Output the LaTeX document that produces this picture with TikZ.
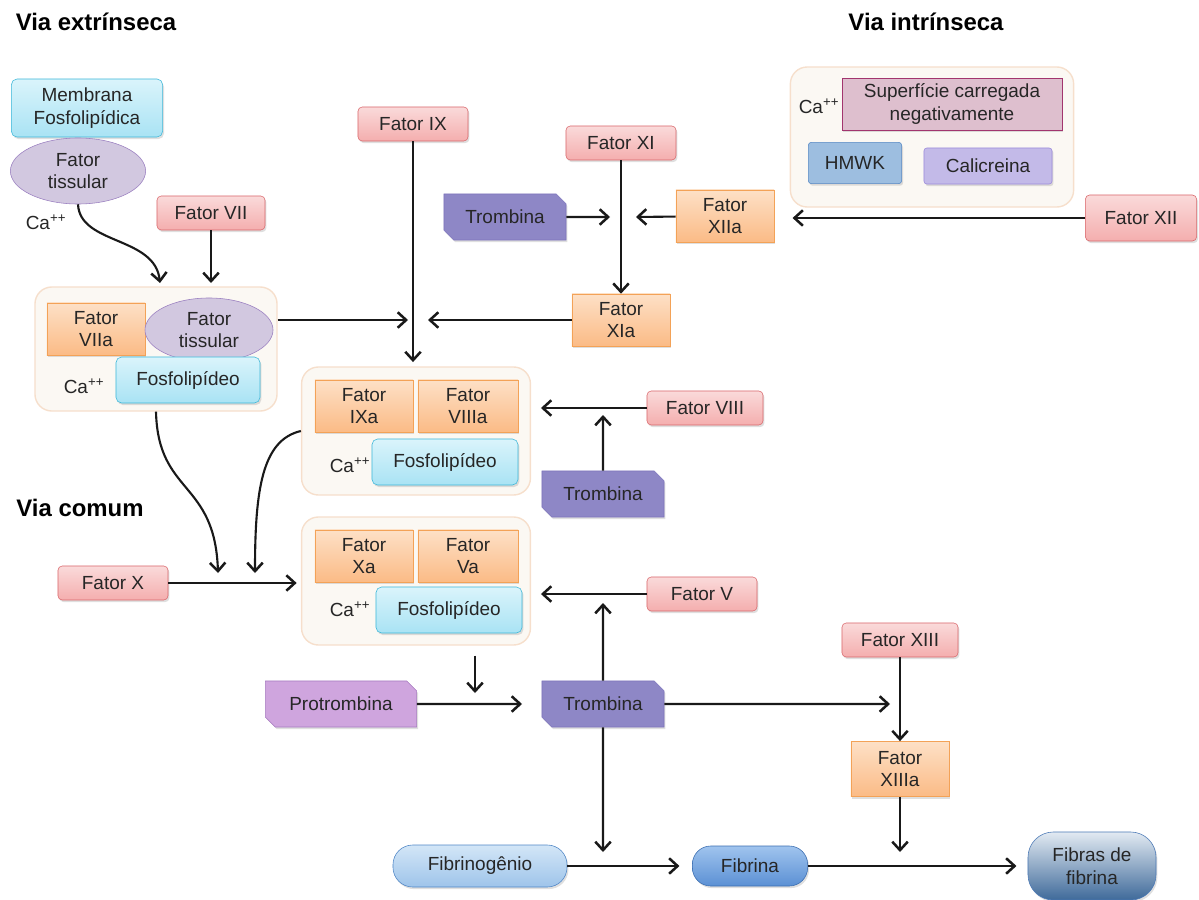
\documentclass[tikz,border=0pt]{standalone}
\usepackage{fontspec}
\setmainfont{Liberation Sans}
\usetikzlibrary{arrows.meta,shapes.geometric,shapes.misc,shadows}

\definecolor{fattop}{HTML}{FADADA}
\definecolor{fatbot}{HTML}{F4AEAE}
\definecolor{fatline}{HTML}{D9686C}
\definecolor{ativtop}{HTML}{FDE0C6}
\definecolor{ativbot}{HTML}{FBBB86}
\definecolor{ativline}{HTML}{F3A257}
\definecolor{fostop}{HTML}{DAF4FB}
\definecolor{fosbot}{HTML}{A9E3F4}
\definecolor{fosline}{HTML}{3EB8D9}
\definecolor{tisfill}{HTML}{D2C8E0}
\definecolor{tisline}{HTML}{9A7FC0}
\definecolor{trbfill}{HTML}{8E87C6}
\definecolor{trbline}{HTML}{7D74BC}
\definecolor{profill}{HTML}{CFA5DE}
\definecolor{proline}{HTML}{A77BC0}
\definecolor{cpxfill}{HTML}{FBF8F3}
\definecolor{cpxline}{HTML}{F6DFCC}
\definecolor{supfill}{HTML}{DEBFCE}
\definecolor{supline}{HTML}{A2356E}
\definecolor{hmfill}{HTML}{9DBEE0}
\definecolor{hmline}{HTML}{5587C4}
\definecolor{calfill}{HTML}{C3BAE8}
\definecolor{calline}{HTML}{9C8BDB}
\definecolor{fbgtop}{HTML}{D3E6F7}
\definecolor{fbgbot}{HTML}{9EC4EA}
\definecolor{fbgline}{HTML}{4F86C6}
\definecolor{fbrtop}{HTML}{A0C4EE}
\definecolor{fbrbot}{HTML}{5B90D4}
\definecolor{fbrline}{HTML}{3A6DB0}
\definecolor{fbstop}{HTML}{E2EAF2}
\definecolor{fbsbot}{HTML}{3F6A9A}
\definecolor{fbsline}{HTML}{4B79B6}

\begin{document}
\begin{tikzpicture}[x=0.025cm, y=-0.025cm, font=\fontsize{13.5}{16}\selectfont, text=black!85,
  >={Straight Barb[length=6pt,width=11pt,line width=1.8pt]},
  shd/.style={drop shadow={opacity=0.25, shadow xshift=1pt, shadow yshift=-1.5pt}},
  fat/.style={rectangle, rounded corners=3pt, draw=fatline, top color=fattop, bottom color=fatbot, minimum width=2.75cm, minimum height=0.85cm, align=center, shd},
  ativ/.style={rectangle, draw=ativline, top color=ativtop, bottom color=ativbot, minimum width=2.45cm, minimum height=1.3cm, align=center, shd},
  fos/.style={rectangle, rounded corners=4pt, draw=fosline, top color=fostop, bottom color=fosbot, minimum width=3.6cm, minimum height=1.15cm, align=center, shd},
  tis/.style={ellipse, draw=tisline, fill=tisfill, inner sep=0pt, align=center},
  trb/.style={chamfered rectangle, chamfered rectangle corners={north east,south west}, chamfered rectangle sep=3.5pt, draw=trbline, fill=trbfill, minimum width=3.05cm, minimum height=1.15cm, shd},
  cpx/.style={rectangle, rounded corners=12pt, draw=cpxline, fill=cpxfill, line width=1pt},
  lab/.style={inner sep=0pt},
  ttl/.style={font=\fontsize{17}{20}\selectfont\bfseries, text=black},
  ln/.style={->, line width=1.5pt, black!90}]
\useasboundingbox (0,0) rectangle (1199,900);

% titulos
\node[ttl] (t1) at (96,22) {Via extrínseca};
\node[ttl] (t2) at (926,22) {Via intrínseca};
\node[ttl] (t3) at (80,508) {Via comum};

% via extrinseca
\node[fos, minimum width=3.78cm, minimum height=1.45cm] (mem) at (87,108) {Membrana\\Fosfolipídica};
\node[tis, minimum width=3.38cm, minimum height=1.65cm] (ft1) at (78,171) {Fator\\tissular};
\node[lab] (ca1) at (46,222) {Ca\textsuperscript{++}};
\node[fat, minimum width=2.7cm] (f7) at (211,213) {Fator VII};

\node[cpx, minimum width=6.05cm, minimum height=3.1cm] (k1) at (156,349) {};
\node[ativ] (f7a) at (96,329) {Fator\\VIIa};
\node[tis, minimum width=3.2cm, minimum height=1.6cm] (ft2) at (209,330) {Fator\\tissular};
\node[fos] (fo1) at (188,380) {Fosfolipídeo};
\node[lab] (ca2) at (84,386) {Ca\textsuperscript{++}};

% via intrinseca
\node[cpx, minimum width=7.08cm, minimum height=3.5cm] (k0) at (932,137) {};
\node[rectangle, draw=supline, fill=supfill, minimum width=5.5cm, minimum height=1.3cm, align=center, shd] (sup) at (952,104) {Superfície carregada\\negativamente};
\node[lab] (ca0) at (819,106) {Ca\textsuperscript{++}};
\node[rectangle, rounded corners=2pt, draw=hmline, fill=hmfill, minimum width=2.33cm, minimum height=1.03cm, shd] (hm) at (855,163) {HMWK};
\node[rectangle, rounded corners=2pt, draw=calline, fill=calfill, minimum width=3.2cm, minimum height=0.9cm, shd] (cal) at (988,166) {Calicreina};
\node[fat, minimum width=2.78cm, minimum height=1.15cm] (f12) at (1141,218) {Fator XII};
\node[ativ] (f12a) at (725,216) {Fator\\XIIa};
\node[trb] (tr1) at (505,217) {Trombina};
\node[fat] (f11) at (621,143) {Fator XI};
\node[ativ] (f11a) at (621,320) {Fator\\XIa};
\node[fat] (f9) at (413,124) {Fator IX};

% complexo IXa
\node[cpx, minimum width=5.72cm, minimum height=3.2cm] (k2) at (416,431) {};
\node[ativ] (f9a) at (364,406) {Fator\\IXa};
\node[ativ, minimum width=2.5cm] (f8a) at (468,406) {Fator\\VIIIa};
\node[fos, minimum width=3.65cm] (fo2) at (445,462) {Fosfolipídeo};
\node[lab] (ca3) at (350,465) {Ca\textsuperscript{++}};
\node[fat, minimum width=2.9cm] (f8) at (705,408) {Fator VIII};
\node[trb] (tr2) at (603,494) {Trombina};

% via comum
\node[cpx, minimum width=5.72cm, minimum height=3.2cm] (k3) at (416,581) {};
\node[ativ] (fxa) at (364,556) {Fator\\Xa};
\node[ativ, minimum width=2.5cm] (f5a) at (468,556) {Fator\\Va};
\node[fos, minimum width=3.65cm] (fo3) at (449,610) {Fosfolipídeo};
\node[lab] (ca4) at (350,609) {Ca\textsuperscript{++}};
\node[fat] (f5) at (702,594) {Fator V};
\node[fat] (f10) at (113,583) {Fator X};

\node[trb, fill=profill, draw=proline, minimum width=3.78cm] (pro) at (341,704) {Protrombina};
\node[trb] (tr3) at (603,704) {Trombina};
\node[fat, minimum width=2.9cm] (f13) at (900,640) {Fator XIII};
\node[ativ, minimum height=1.38cm] (f13a) at (900,769) {Fator\\XIIIa};
\node[rectangle, rounded corners=14pt, draw=fbgline, top color=fbgtop, bottom color=fbgbot, minimum width=4.35cm, minimum height=1.05cm, shd] (fbg) at (480,866) {Fibrinogênio};
\node[rectangle, rounded corners=13pt, draw=fbrline, top color=fbrtop, bottom color=fbrbot, minimum width=2.88cm, minimum height=1cm, shd] (fbr) at (750,866) {Fibrina};
\node[rectangle, rounded corners=18pt, draw=fbsline, top color=fbstop, bottom color=fbsbot, minimum width=3.2cm, minimum height=1.7cm, align=center, shd] (fbs) at (1092,866) {Fibras de\\fibrina};

% setas
\coordinate (p1) at (160,283);
\draw[ln] (ft1.south) .. controls (80,245) and (155,236) .. (p1);
\draw[ln] (f7) -- (f7 |- p1);
\coordinate (p2) at (408,320);
\coordinate (p3) at (428,320);
\draw[ln] (k1.east |- p2) -- (p2);
\draw[ln] (f11a) -- (p3);
\draw[ln, shorten >=3pt] (f9) -- (f9 |- k2.north);
\coordinate (j1) at (610,217);
\coordinate (j2) at (636,217);
\draw[ln] (tr1) -- (j1);
\draw[ln] (f12a) -- (j2);
\draw[ln] (f11) -- (f11a);
\draw[ln, shorten >=13pt] (f12) -- (f12 -| f12a.east);
\draw[ln, shorten >=7pt] (f8) -- (f8 -| k2.east);
\coordinate (p4) at (603,415);
\draw[ln] (tr2) -- (p4);

\coordinate (p5) at (218,573);
\coordinate (p6) at (255,573);
\draw[ln] (k1.south) .. controls (158,495) and (215,480) .. (p5);
\draw[ln] (k2.west) .. controls (262,440) and (255,490) .. (p6);
\draw[ln, shorten >=3pt] (f10) -- (f10 -| k3.west);
\draw[ln, shorten >=7pt] (f5) -- (f5 -| k3.east);
\coordinate (p7) at (603,603);
\draw[ln] (tr3) -- (p7);
\coordinate (p8) at (475,693);
\draw[ln, shorten <=7pt] (k3.south -| p8) -- (p8);
\draw[ln, shorten >=14pt] (pro) -- (tr3);
\coordinate (p9) at (890,704);
\draw[ln] (tr3) -- (p9);
\draw[ln] (f13) -- (f13a);
\coordinate (p10) at (900,852);
\draw[ln] (f13a) -- (p10);
\coordinate (p11) at (603,852);
\draw[ln] (tr3) -- (p11);
\draw[ln, shorten >=9pt] (fbg) -- (fbr);
\draw[ln, shorten >=8pt] (fbr) -- (fbs);
\end{tikzpicture}
\end{document}
